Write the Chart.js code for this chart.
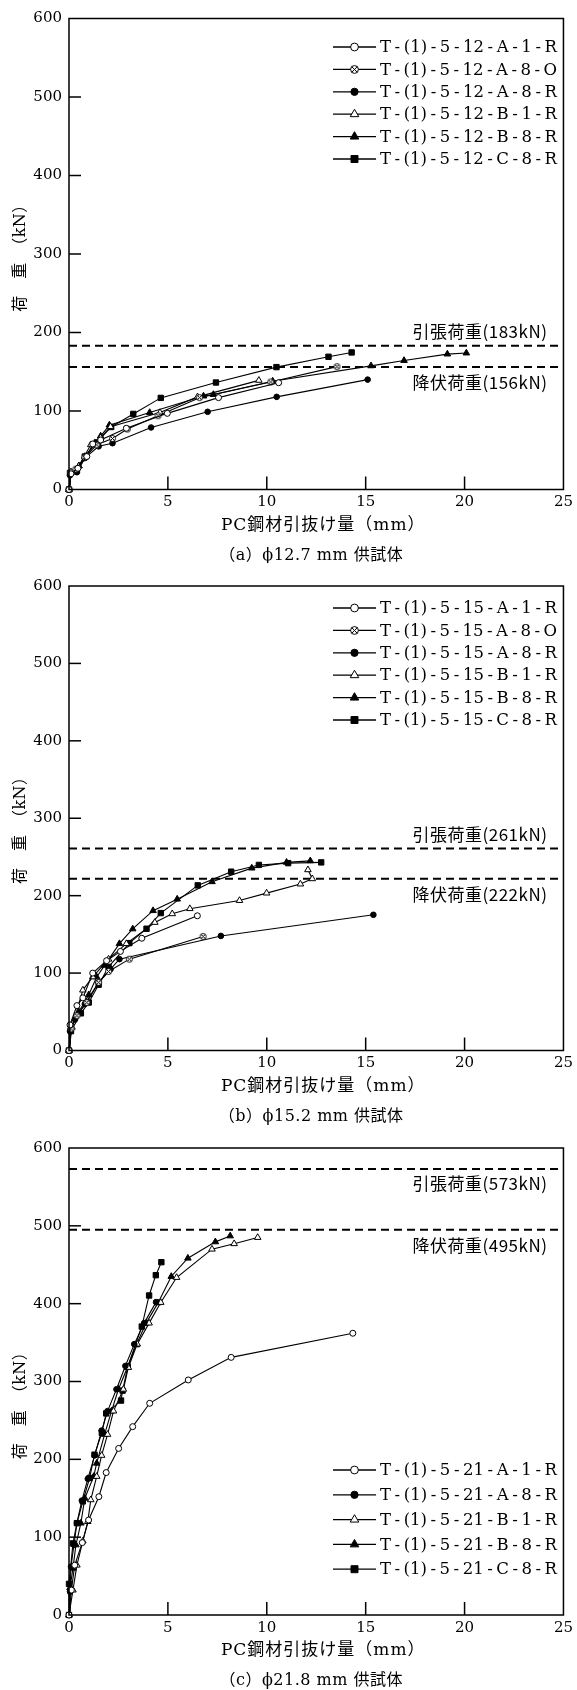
<!DOCTYPE html>
<html>
<head>
<meta charset="utf-8">
<script src="https://cdn.jsdelivr.net/npm/chart.js@4.4.1/dist/chart.umd.min.js"></script>
<style>
  html, body { margin: 0; padding: 0; background: #fff; }
  #wrap { position: relative; width: 577px; height: 1690px; overflow: hidden; }
  canvas { position: absolute; left: 0; display: block; }
</style>
</head>
<body>
<div id="wrap">
  <canvas id="chartA" width="577" height="563" style="top:0px"></canvas>
  <canvas id="chartB" width="577" height="562" style="top:563px"></canvas>
  <canvas id="chartC" width="577" height="565" style="top:1125px"></canvas>
</div>
<script>
// ---- axis ticks ----
const xTicks = [0, 5, 10, 15, 20, 25];
const yTicks = [0, 100, 200, 300, 400, 500, 600];

// ---- (a) φ12.7 mm : pull-out displacement (mm) vs load (kN) ----
const namesA = ['T-(1)-5-12-A-1-R', 'T-(1)-5-12-A-8-O', 'T-(1)-5-12-A-8-R',
                'T-(1)-5-12-B-1-R', 'T-(1)-5-12-B-8-R', 'T-(1)-5-12-C-8-R'];
const a_A1R = [[0,0],[0.1,20],[0.45,27],[0.9,42],[1.2,58],[1.6,63],[2.9,78],[4.97,97],[7.56,117],[10.6,136]];
const a_A8O = [[0,0],[0.1,22],[0.35,26],[0.8,41],[1.4,57],[2.2,65],[2.95,77],[4.5,94],[6.6,117],[10.2,137],[13.55,156.5]];
const a_A8R = [[0,0],[0.05,18],[0.4,22],[0.8,40],[1.5,55],[2.2,59],[4.15,79],[7.01,99],[10.5,118],[15.1,140]];
const a_B1R = [[0,0],[0.1,22],[0.5,30],[1.1,57],[1.6,66],[2.1,80],[4.6,98],[6.5,118],[9.6,139]];
const a_B8R = [[0,0],[0.1,22],[0.5,30],[0.8,42],[1.3,58],[1.6,68],[2.04,82],[4.08,98],[6.8,119],[7.3,121],[10.3,138],[15.27,157.5],[16.94,164.3],[19.13,172.5],[20.09,173.8]];
const a_C8R = [[0,0],[0.05,21],[0.4,25],[0.8,42],[1.4,60],[2.13,79.6],[3.25,96.3],[4.64,116.7],[7.43,136.3],[10.49,155.9],[13.12,169.1],[14.29,174.6]];
const refA = [183, 156];

// ---- (b) φ15.2 mm ----
const namesB = ['T-(1)-5-15-A-1-R', 'T-(1)-5-15-A-8-O', 'T-(1)-5-15-A-8-R',
                'T-(1)-5-15-B-1-R', 'T-(1)-5-15-B-8-R', 'T-(1)-5-15-C-8-R'];
const b_A1R = [[0,0],[0.05,33],[0.4,58],[0.7,68],[1.2,100],[1.9,116],[2.6,128],[3.68,145],[6.49,174]];
const b_A8O = [[0,0],[0.1,28],[0.4,45],[0.9,62],[1.5,88],[2.0,102],[3.05,118],[6.78,147.3]];
const b_A8R = [[0,0],[0.05,25],[0.3,40],[0.8,60],[1.5,88],[2.1,105],[2.55,118],[7.68,148],[15.39,175.3]];
const b_B1R = [[0,0],[0.15,30],[0.7,78],[1.2,95],[2.0,118],[2.9,138],[4.34,165.4],[5.22,176.6],[6.11,183.2],[8.62,193.7],[9.99,203.3],[11.7,215],[12.3,221.8],[12.08,233.4]];
const b_B8R = [[0,0],[0.1,30],[0.5,50],[1.0,72],[1.4,95],[1.8,110],[2.55,138],[3.22,157],[4.25,180.6],[5.47,195.5],[7.23,218],[9.24,235.6],[11.0,243],[12.2,245]];
const b_C8R = [[0,0],[0.1,25],[0.6,48],[1.0,62],[1.5,85],[2.0,108],[3.05,138.7],[3.92,157.3],[4.64,177.5],[6.51,213.3],[8.2,231],[9.6,239.7],[11.08,242],[12.75,243]];
const refB = [261, 222];

// ---- (c) φ21.8 mm ----
const namesC = ['T-(1)-5-21-A-1-R', 'T-(1)-5-21-A-8-R', 'T-(1)-5-21-B-1-R',
                'T-(1)-5-21-B-8-R', 'T-(1)-5-21-C-8-R'];
const c_A1R = [[0,0],[0.12,32],[0.29,64],[0.67,93],[0.99,122],[1.51,152],[1.88,183],[2.51,214],[3.22,242],[4.08,272],[6.03,302],[8.2,331],[14.35,362]];
const c_A8R = [[0,0],[0.05,30],[0.1,62],[0.25,90],[0.4,118],[0.65,147],[0.95,175],[1.3,205],[1.65,237],[1.95,262],[2.4,290],[2.85,320],[3.3,348],[3.8,375],[4.4,402]];
const c_B1R = [[0,0],[0.2,32],[0.4,64],[0.7,95],[0.95,120],[1.1,148],[1.4,178],[1.65,205],[1.95,232],[2.25,262],[2.75,290],[3.0,318],[3.45,348],[4.05,375],[4.64,401.5],[5.44,433.6],[7.23,470],[8.35,477],[9.54,485]];
const c_B8R = [[0,0],[0.05,35],[0.2,60],[0.35,90],[0.6,118],[0.8,150],[1.25,178],[1.4,195],[1.8,232],[2.15,262],[2.5,290],[2.95,318],[3.4,347],[3.9,375],[4.5,401],[5.17,434.9],[6.01,458.4],[7.4,479.4],[8.15,487]];
const c_C8R = [[0,0],[0,40],[0.2,92],[0.4,118],[0.7,146],[1.04,176],[1.29,206],[1.66,234],[1.88,259],[2.63,275.5],[2.71,288.3],[2.97,319.2],[3.68,370.6],[4.05,410.5],[4.39,436.6],[4.67,453.3]];
const refC = [573, 495];

// ---- fonts ----
const SERIF = "'DejaVu Serif', 'Noto Sans CJK JP', serif";
const CJK = "'Noto Sans CJK JP', 'DejaVu Serif', serif";

// circle with an X inside, used for the "-O" specimens
function crossCircle(r) {
  const s = Math.ceil(2 * r + 3);
  const cv = document.createElement('canvas');
  cv.width = s; cv.height = s;
  const g = cv.getContext('2d');
  const c = s / 2;
  g.fillStyle = '#fff'; g.strokeStyle = '#000'; g.lineWidth = 1;
  g.beginPath(); g.arc(c, c, r, 0, Math.PI * 2); g.fill(); g.stroke();
  const d = r * 0.7;
  g.beginPath();
  g.moveTo(c - d, c - d); g.lineTo(c + d, c + d);
  g.moveTo(c + d, c - d); g.lineTo(c - d, c + d);
  g.stroke();
  return cv;
}

// marker styles by specimen suffix
const MARK = {
  'A-1-R': { pointStyle: 'circle',   radius: 3,   fill: '#fff' },
  'A-8-O': { pointStyle: 'cross',    radius: 3,   fill: '#fff' },
  'A-8-R': { pointStyle: 'circle',   radius: 2.8, fill: '#000' },
  'B-1-R': { pointStyle: 'triangle', radius: 3.8, fill: '#fff' },
  'B-8-R': { pointStyle: 'triangle', radius: 3.8, fill: '#000' },
  'C-8-R': { pointStyle: 'rect',     radius: 3.8, fill: '#000' }
};

function series(name, pairs) {
  const m = MARK[name.slice(-5)];
  const style = m.pointStyle === 'cross' ? crossCircle(m.radius) : m.pointStyle;
  return {
    label: name,
    data: pairs.map(([x, y]) => ({ x, y })),
    borderColor: '#000',
    borderWidth: 1.1,
    tension: 0,
    pointStyle: style,
    pointRadius: m.radius,
    pointBackgroundColor: m.fill,
    pointBorderColor: '#000',
    pointBorderWidth: 1,
    clip: false,
    legendMark: m
  };
}

function refLine(v, name) {
  return {
    label: name,
    data: [{ x: 0, y: v }, { x: 25, y: v }],
    borderColor: '#000',
    borderWidth: 2,
    borderDash: [8, 5],
    pointRadius: 0,
    tension: 0,
    isRef: true
  };
}

function line(ctx, x1, y1, x2, y2) {
  ctx.beginPath(); ctx.moveTo(x1, y1); ctx.lineTo(x2, y2); ctx.stroke();
}

// specimen name with the hyphens spread out to a fixed width
function drawSpecimen(ctx, text, x, y, width) {
  const parts = text.split('-');
  const hw = ctx.measureText('-').width;
  let total = 0;
  parts.forEach(p => { total += ctx.measureText(p).width; });
  total += hw * (parts.length - 1);
  const gap = Math.max(0, (width - total) / (2 * (parts.length - 1)));
  let cx = x;
  parts.forEach((p, i) => {
    ctx.fillText(p, cx, y);
    cx += ctx.measureText(p).width;
    if (i < parts.length - 1) {
      cx += gap;
      ctx.fillText('-', cx, y);
      cx += hw + gap;
    }
  });
}

// frame, inward ticks, titles, reference-line labels and legend
const panelDecor = {
  id: 'panelDecor',
  afterDraw(chart, args, o) {
    const { ctx, chartArea: ca, scales: { x, y } } = chart;
    ctx.save();
    ctx.strokeStyle = '#000';
    ctx.fillStyle = '#000';
    ctx.lineWidth = 1.5;
    ctx.strokeRect(ca.left, ca.top, ca.right - ca.left, ca.bottom - ca.top);

    x.ticks.forEach(t => {
      if (t.value > x.min && t.value < x.max) {
        const px = x.getPixelForValue(t.value);
        line(ctx, px, ca.bottom, px, ca.bottom - 13);
      }
    });
    y.ticks.forEach(t => {
      if (t.value > y.min && t.value < y.max) {
        const py = y.getPixelForValue(t.value);
        line(ctx, ca.left, py, ca.left + 12, py);
      }
    });

    // reference line labels
    ctx.font = '17px ' + CJK;
    ctx.letterSpacing = '0.5px';
    ctx.textAlign = 'right';
    ctx.textBaseline = 'middle';
    o.refLabels.forEach(r => {
      const py = y.getPixelForValue(r.value);
      ctx.fillText(r.text, ca.right - 16, py + r.dy);
    });

    // axis titles and caption
    const cx = (ca.left + ca.right) / 2;
    ctx.textAlign = 'center';
    ctx.font = '17px ' + SERIF;
    ctx.letterSpacing = '1px';
    ctx.fillText('PC鋼材引抜け量（mm）', cx + 7, ca.bottom + 36);
    ctx.letterSpacing = '0.5px';
    ctx.font = '16px ' + SERIF;
    ctx.fillText(o.caption, cx - 5, ca.bottom + 66);

    ctx.save();
    ctx.translate(21, (ca.top + ca.bottom) / 2 + o.yTitleShift);
    ctx.rotate(-Math.PI / 2);
    ctx.font = '16px ' + SERIF;
    ctx.fillText('荷　重　（kN）', 0, 0);
    ctx.restore();
    ctx.letterSpacing = '0px';

    // legend
    const sets = chart.data.datasets.filter(d => !d.isRef);
    ctx.font = '16.5px ' + SERIF;
    ctx.textAlign = 'left';
    sets.forEach((d, i) => {
      const ly = o.legendY + i * o.legendGap;
      ctx.lineWidth = 1.3;
      ctx.strokeStyle = '#000';
      line(ctx, 333, ly, 376, ly);
      const m = d.legendMark;
      const r = m.radius * 1.3;
      ctx.lineWidth = 1;
      ctx.fillStyle = m.fill;
      const st = m.pointStyle === 'cross' ? crossCircle(r) : m.pointStyle;
      Chart.helpers.drawPoint(ctx, { pointStyle: st, radius: r, borderWidth: 1, rotation: 0 }, 354.5, ly);
      ctx.fillStyle = '#000';
      drawSpecimen(ctx, d.label, 380, ly + 1, 177);
    });
    ctx.restore();
  }
};

function makeChart(id, H, top, bottom, datasets, decor) {
  return new Chart(document.getElementById(id), {
    type: 'line',
    data: { datasets },
    options: {
      responsive: false,
      animation: false,
      devicePixelRatio: 1,
      layout: { padding: { top: top, right: 10, left: 0, bottom: 0 } },
      plugins: { legend: { display: false }, tooltip: { enabled: false }, panelDecor: decor },
      scales: {
        x: {
          type: 'linear', min: 0, max: 25,
          afterBuildTicks: s => { s.ticks = xTicks.map(v => ({ value: v })); },
          afterFit: s => { s.height = H - bottom; },
          grid: { display: false, drawTicks: false },
          border: { display: false },
          ticks: { font: { family: "'DejaVu Serif', serif", size: 15 }, color: '#000', padding: 4, maxRotation: 0, autoSkip: false }
        },
        y: {
          type: 'linear', min: 0, max: 600,
          afterBuildTicks: s => { s.ticks = yTicks.map(v => ({ value: v })); },
          afterFit: s => { s.width = 69; },
          grid: { display: false, drawTicks: false },
          border: { display: false },
          ticks: { font: { family: "'DejaVu Serif', serif", size: 15 }, color: '#000', padding: 7, autoSkip: false }
        }
      }
    },
    plugins: [panelDecor]
  });
}

makeChart('chartA', 563, 18.5, 489.5, [
  series(namesA[0], a_A1R), series(namesA[1], a_A8O), series(namesA[2], a_A8R),
  series(namesA[3], a_B1R), series(namesA[4], a_B8R), series(namesA[5], a_C8R),
  refLine(refA[0], '引張荷重'), refLine(refA[1], '降伏荷重')
], {
  caption: '（a）ϕ12.7 mm 供試体',
  refLabels: [
    { value: refA[0], text: '引張荷重(' + refA[0] + 'kN)', dy: -14 },
    { value: refA[1], text: '降伏荷重(' + refA[1] + 'kN)', dy: 16 }
  ],
  yTitleShift: 0,
  legendY: 47, legendGap: 22.4
});

makeChart('chartB', 562, 23, 487.5, [
  series(namesB[0], b_A1R), series(namesB[1], b_A8O), series(namesB[2], b_A8R),
  series(namesB[3], b_B1R), series(namesB[4], b_B8R), series(namesB[5], b_C8R),
  refLine(refB[0], '引張荷重'), refLine(refB[1], '降伏荷重')
], {
  caption: '（b）ϕ15.2 mm 供試体',
  refLabels: [
    { value: refB[0], text: '引張荷重(' + refB[0] + 'kN)', dy: -14 },
    { value: refB[1], text: '降伏荷重(' + refB[1] + 'kN)', dy: 16 }
  ],
  yTitleShift: 8,
  legendY: 45, legendGap: 22.4
});

makeChart('chartC', 565, 23, 490, [
  series(namesC[0], c_A1R), series(namesC[1], c_A8R), series(namesC[2], c_B1R),
  series(namesC[3], c_B8R), series(namesC[4], c_C8R),
  refLine(refC[0], '引張荷重'), refLine(refC[1], '降伏荷重')
], {
  caption: '（c）ϕ21.8 mm 供試体',
  refLabels: [
    { value: refC[0], text: '引張荷重(' + refC[0] + 'kN)', dy: 15 },
    { value: refC[1], text: '降伏荷重(' + refC[1] + 'kN)', dy: 16 }
  ],
  yTitleShift: 20,
  legendY: 345, legendGap: 24.8
});
</script>
</body>
</html>
